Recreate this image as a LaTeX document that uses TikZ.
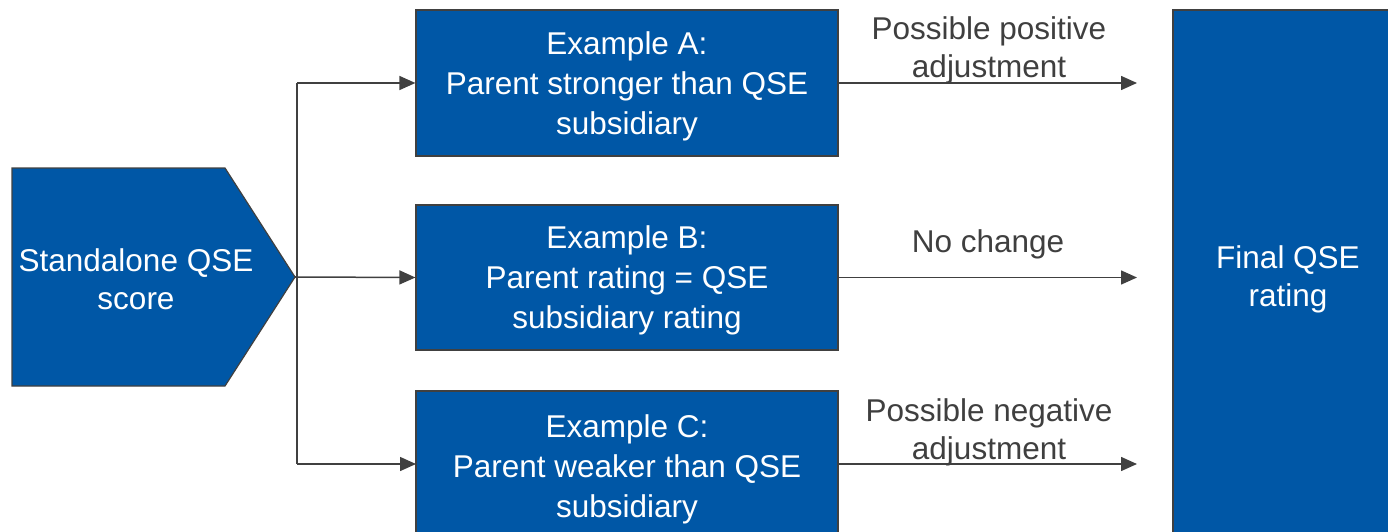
\documentclass[tikz,border=0pt]{standalone}
\usepackage{fontspec}
\setmainfont{Liberation Sans}
\usetikzlibrary{arrows.meta}
\usetikzlibrary{positioning}
\definecolor{qseblue}{HTML}{0057A6}
\definecolor{edgegray}{HTML}{404040}
\definecolor{labelgray}{HTML}{3F3F3F}

\tikzset{
  qsebox/.style={draw=edgegray, line width=1.2pt, fill=qseblue, text=white,
    align=center, inner sep=0pt, text depth=0pt,
    font=\fontsize{31.5}{40}\selectfont},
  qselabel/.style={text=labelgray, align=center, inner sep=0pt, text depth=0pt,
    font=\fontsize{31.5}{38}\selectfont},
  qsearrow/.style={draw=edgegray, line width=1.5pt,
    -{Triangle[length=16pt,width=14pt]}}
}

\begin{document}
\begin{tikzpicture}[x=1pt, y=-1pt]
    \useasboundingbox (0,0) rectangle (1388,532);

    % Standalone score pentagon
    \filldraw[fill=qseblue, draw=edgegray, line width=1.2pt]
        (12,168) -- (225,168) -- (295,277) -- (225,386) -- (12,386) -- cycle;
    \coordinate (tip) at (295,277);
    \node[qsebox, draw=none, fill=none, font=\fontsize{31.5}{38}\selectfont]
        (std) at (136,279) {Standalone QSE\\score};

    % Example boxes
    \node[qsebox, minimum width=422pt, minimum height=146pt] (exA) at (627,83)
        {Example A:\\Parent stronger than QSE\\subsidiary};
    \node[qsebox, minimum width=422pt, minimum height=145pt] (exB) at (627,277.5)
        {Example B:\\Parent rating = QSE\\subsidiary rating};
    \node[qsebox, minimum width=422pt, minimum height=150pt] (exC) at (627,466)
        {Example C:\\Parent weaker than QSE\\subsidiary};

    % Final rating
    \node[qsebox, minimum width=230pt, minimum height=532pt,
        font=\fontsize{31.5}{38}\selectfont] (final) at (1288,276)
        {Final QSE\\rating};

    % Fork from the score to the examples
    \coordinate (fork) at (297,277);
    \coordinate (forkA) at (297,83);
    \coordinate (forkC) at (297,464);
    \coordinate (inC) at (416,464);
    \draw[edgegray, line width=1.5pt] (tip) -- (fork);
    \draw[edgegray, line width=1.5pt] (forkA) -- (forkC);
    \draw[qsearrow] (forkA) -- (exA.west);
    \draw[qsearrow] (fork) -- (exB.west);
    \draw[qsearrow] (forkC) -- (inC);

    % Arrows towards the final rating
    \coordinate (outC) at (838,464);
    \coordinate (endA) at (1137,83);
    \coordinate (endB) at (1137,277.5);
    \coordinate (endC) at (1137,464);
    \draw[qsearrow] (exA.east) -- (endA);
    \draw[qsearrow] (exB.east) -- (endB);
    \draw[qsearrow] (outC) -- (endC);

    % Labels
    \node[qselabel] (posA) at (989,47) {Possible positive\\adjustment};
    \node[qselabel] (noB) at (988,241) {No change};
    \node[qselabel] (negC) at (989,429) {Possible negative\\adjustment};
\end{tikzpicture}
\end{document}
